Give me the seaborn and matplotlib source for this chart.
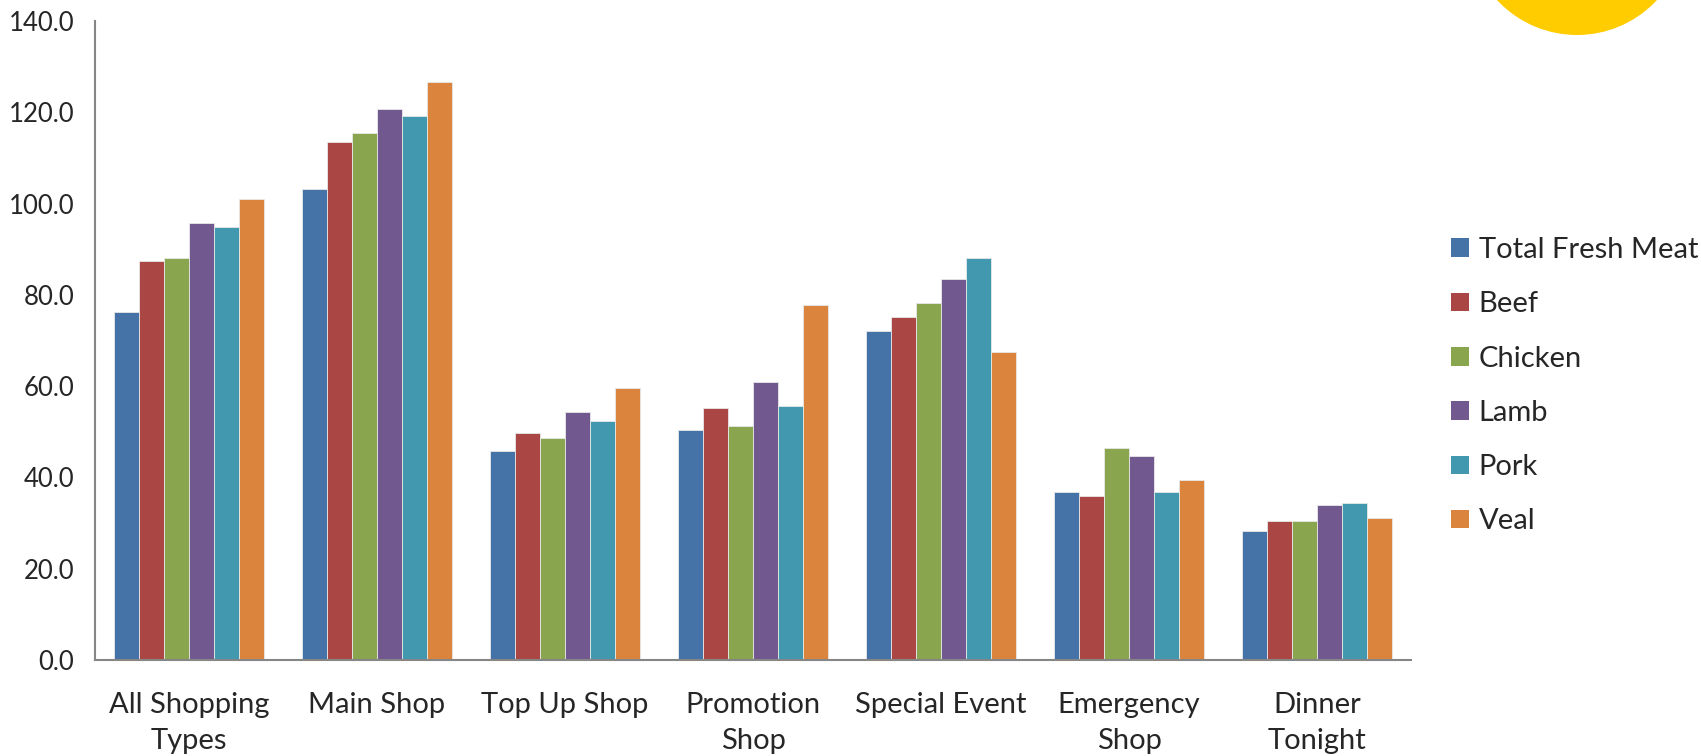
import matplotlib
matplotlib.use("Agg")
import matplotlib.pyplot as plt
import seaborn as sns
import pandas as pd
from matplotlib.patches import Patch, Ellipse

categories = ["All Shopping\nTypes", "Main Shop", "Top Up Shop", "Promotion\nShop",
              "Special Event", "Emergency\nShop", "Dinner\nTonight"]
series_names = ["Total Fresh Meat", "Beef", "Chicken", "Lamb", "Pork", "Veal"]
total_fresh_meat = [76.3, 103.1, 45.8, 50.5, 72.1, 36.7, 28.3]
beef = [87.4, 113.4, 49.7, 55.3, 75.1, 36.0, 30.4]
chicken = [88.1, 115.4, 48.6, 51.2, 78.2, 46.4, 30.4]
lamb = [95.8, 120.7, 54.3, 61.0, 83.4, 44.8, 34.0]
pork = [94.9, 119.1, 52.4, 55.6, 88.0, 36.9, 34.4]
veal = [100.9, 126.7, 59.6, 77.7, 67.4, 39.5, 31.2]
y_ticks = [0, 20, 40, 60, 80, 100, 120, 140]
colors = ["#4572A7", "#AA4643", "#89A54E", "#71588F", "#4198AF", "#DB843D"]

all_series = [total_fresh_meat, beef, chicken, lamb, pork, veal]
rows = []
for name, vals in zip(series_names, all_series):
    for cat, v in zip(categories, vals):
        rows.append({"Category": cat, "Series": name, "Value": v})
df = pd.DataFrame(rows)

sns.set_theme(style="white")
plt.rcParams["font.family"] = ["Lato", "DejaVu Sans"]

fig = plt.figure(figsize=(17.01, 7.56), dpi=100)
ax = fig.add_axes([95/1701, 1 - 660/756, (1411 - 95)/1701, (660 - 21)/756])

sns.barplot(data=df, x="Category", y="Value", hue="Series", order=categories,
            hue_order=series_names, palette=colors, ax=ax, width=0.8,
            edgecolor="#e8e8e8", linewidth=0.6, legend=False, saturation=1)

ax.set_xlim(-0.5, len(categories) - 0.5)
ax.set_ylim(0, 140)
ax.set_yticks(y_ticks)
ax.set_yticklabels([f"{t:.1f}" for t in y_ticks], fontsize=18.5)
ax.tick_params(axis="y", length=0, pad=15)
ax.tick_params(axis="x", length=0, pad=23, labelsize=21)
for lbl in ax.get_xticklabels():
    lbl.set_linespacing(1.5)
ax.set_xlabel("")
ax.set_ylabel("")
for s in ["top", "right"]:
    ax.spines[s].set_visible(False)
for s in ["left", "bottom"]:
    ax.spines[s].set_color("#868686")
    ax.spines[s].set_linewidth(1.5)

handles = [Patch(facecolor=c, edgecolor="none") for c in colors]
fig.legend(handles, series_names, loc="upper left",
           bbox_to_anchor=(1451/1701, 1 - 237/756), frameon=False,
           fontsize=21, handlelength=0.63, handleheight=0.6, handletextpad=0.32,
           labelspacing=0.97, borderaxespad=0, borderpad=0)

ell = Ellipse((1577/1701, 1 + 74/756), 2*109/1701, 2*109/756,
              transform=fig.transFigure, facecolor="#FFCC00", edgecolor="none")
fig.patches.append(ell)

fig.savefig("out.png", dpi=100)
